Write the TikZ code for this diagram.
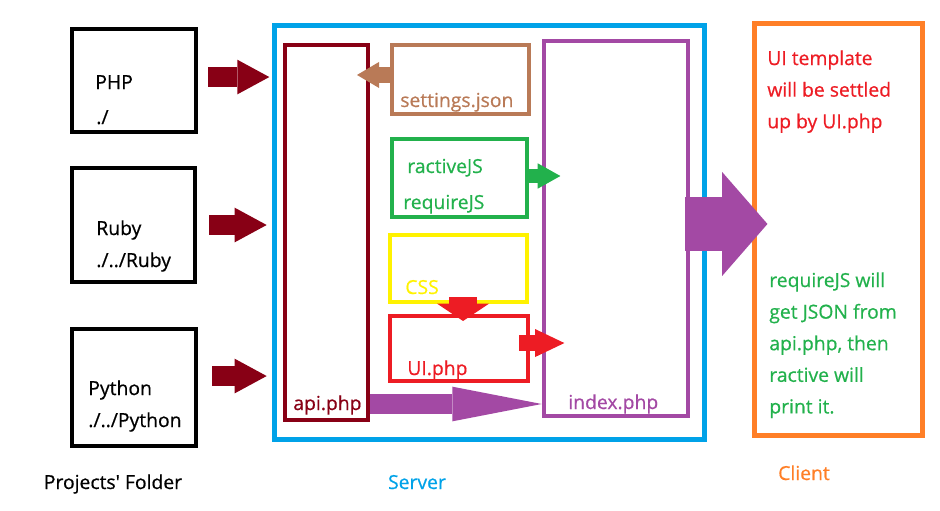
\documentclass[tikz,border=0pt]{standalone}
\usepackage{fontspec}
\newfontfamily\diagfont{Open Sans}[FakeBold=0.6]
\usetikzlibrary{arrows.meta,fit,calc}

\definecolor{srvblue}{RGB}{0,162,232}
\definecolor{cliorange}{RGB}{255,127,39}
\definecolor{apired}{RGB}{136,0,21}
\definecolor{setbrown}{RGB}{185,122,87}
\definecolor{jsgreen}{RGB}{34,177,76}
\definecolor{cssyellow}{RGB}{255,242,0}
\definecolor{uired}{RGB}{237,28,36}
\definecolor{idxpurple}{RGB}{163,73,164}

\tikzset{every picture/.style={line width=0.5pt}}
\tikzset{
  partbox/.style={draw=#1, line width=3pt, inner sep=0pt},
  tierbox/.style={draw=#1, line width=3.75pt, inner sep=0pt},
  lbl/.style={anchor=base west, inner sep=0pt, text=#1, font=\diagfont\fontsize{14.5}{23.7}\selectfont},
  fatarrow/.style n args={4}{draw=#1, line width=#2, -{Triangle[width=#3, length=#4, line width'=0pt]}},
}

\begin{document}
\begin{tikzpicture}[x=0.75pt,y=0.75pt,yscale=-1]
        \useasboundingbox (0,0) rectangle (940,511);

        %Shape: Rectangle (projects' folders)
        \node [partbox=black, fit={(72,29) (196,132)}] (php) {};
        \node [partbox=black, fit={(72,168) (195,282)}] (ruby) {};
        \node [partbox=black, fit={(72,329) (196,446)}] (python) {};
        %Shape: Rectangle (server and client)
        \node [tierbox=srvblue, fit={(274.5,25.5) (704.5,439.5)}] (server) {};
        \node [tierbox=cliorange, fit={(754.5,23.5) (922.5,435.5)}] (client) {};
        %Shape: Rectangle (server parts)
        \node [partbox=apired, fit={(285,45) (368,420)}] (api) {};
        \node [partbox=setbrown, fit={(392,45) (529,114)}] (settings) {};
        \node [partbox=jsgreen, fit={(392,139) (527,217)}] (libs) {};
        \node [partbox=cssyellow, fit={(390,235) (527,302)}] (css) {};
        \node [partbox=uired, fit={(390,316) (528,381)}] (ui) {};
        \node [partbox=idxpurple, line width=3.4pt, fit={(544,41) (688,416)}] (index) {};

        % Text Node
        \node [lbl=black] (phpname) at (95,89) {PHP};
        \node [lbl=black] (phpdir) at (96,124) {./};
        \node [lbl=black] (rubyname) at (96,235) {Ruby};
        \node [lbl=black] (rubydir) at (96,267) {./../Ruby};
        \node [lbl=black] (pythonname) at (88,395) {Python};
        \node [lbl=black] (pythondir) at (88,427) {./../Python};
        \node [lbl=black, anchor=base] (folders) at (113,489) {Projects' Folder};
        \node [lbl=srvblue, anchor=base] (servername) at (417,489) {Server};
        \node [lbl=cliorange, anchor=base] (clientname) at (804,480) {Client};
        \node [lbl=setbrown] (settingsname) at (400,107) {settings.json};
        \node [lbl=jsgreen] (ractivename) at (407,173) {ractiveJS};
        \node [lbl=jsgreen] (requirename) at (403,209) {requireJS};
        \node [lbl=cssyellow] (cssname) at (405,294) {CSS};
        \node [lbl=uired] (uiname) at (407,375) {UI.php};
        \node [lbl=apired] (apiname) at (293,410) {api.php};
        \node [lbl=idxpurple] (indexname) at (568,409) {index.php};
        \node [lbl=uired, anchor=north west, align=left] (uinote) at (767,50) {UI template\\will be settled\\up by UI.php};
        \node [lbl=jsgreen, anchor=north west, align=left] (jsnote) at (769,272) {requireJS will\\get JSON from\\api.php, then\\ractive will\\print it.};

        %Straight Lines [folders to server]
        \draw [fatarrow={apired}{15pt}{26pt}{24pt}, shorten >=2pt] ([shift={(7.5pt,-2.6pt)}]php.east) -- ([yshift=-2.6pt]php.east -| server.west);
        \draw [fatarrow={apired}{15pt}{26pt}{24pt}, shorten >=4pt] ([xshift=9pt]ruby.east) -- (ruby.east -| server.west);
        \draw [fatarrow={apired}{15pt}{26pt}{24pt}, shorten >=4pt] ([shift={(10.5pt,-8.6pt)}]python.east) -- ([yshift=-8.6pt]python.east -| server.west);
        %Straight Lines [inside server]
        \draw [fatarrow={setbrown}{12pt}{19.5pt}{16.5pt}, shorten >=-9.75pt] ([yshift=-3.4pt]settings.west) -- ([yshift=-3.4pt]settings.west -| api.east);
        \draw [fatarrow={jsgreen}{11pt}{19pt}{17pt}, shorten >=-14pt] ([shift={(-3pt,-1.5pt)}]libs.east) -- ([yshift=-1.5pt]libs.east -| index.west);
        \draw [fatarrow={uired}{21pt}{39pt}{13pt}, shorten >=-5.25pt] ([shift={(3.4pt,-5.2pt)}]css.south) -- ([xshift=3.4pt]css.south |- ui.north);
        \draw [fatarrow={uired}{12pt}{21pt}{22pt}, shorten >=-17pt] ([shift={(-8pt,-4.1pt)}]ui.east) -- ([yshift=-4.1pt]ui.east -| index.west);
        \draw [fatarrow={idxpurple}{15pt}{26pt}{67pt}] ([yshift=-13.5pt]api.south east) -- ([yshift=-13.5pt]api.south east -| index.west);
        %Straight Lines [server to client]
        \draw [fatarrow={idxpurple}{40pt}{78pt}{34pt}, shorten >=-11.6pt] ([shift={(-3.75pt,-3.4pt)}]index.east) -- ([yshift=-3.4pt]index.east -| client.west);

\end{tikzpicture}
\end{document}
